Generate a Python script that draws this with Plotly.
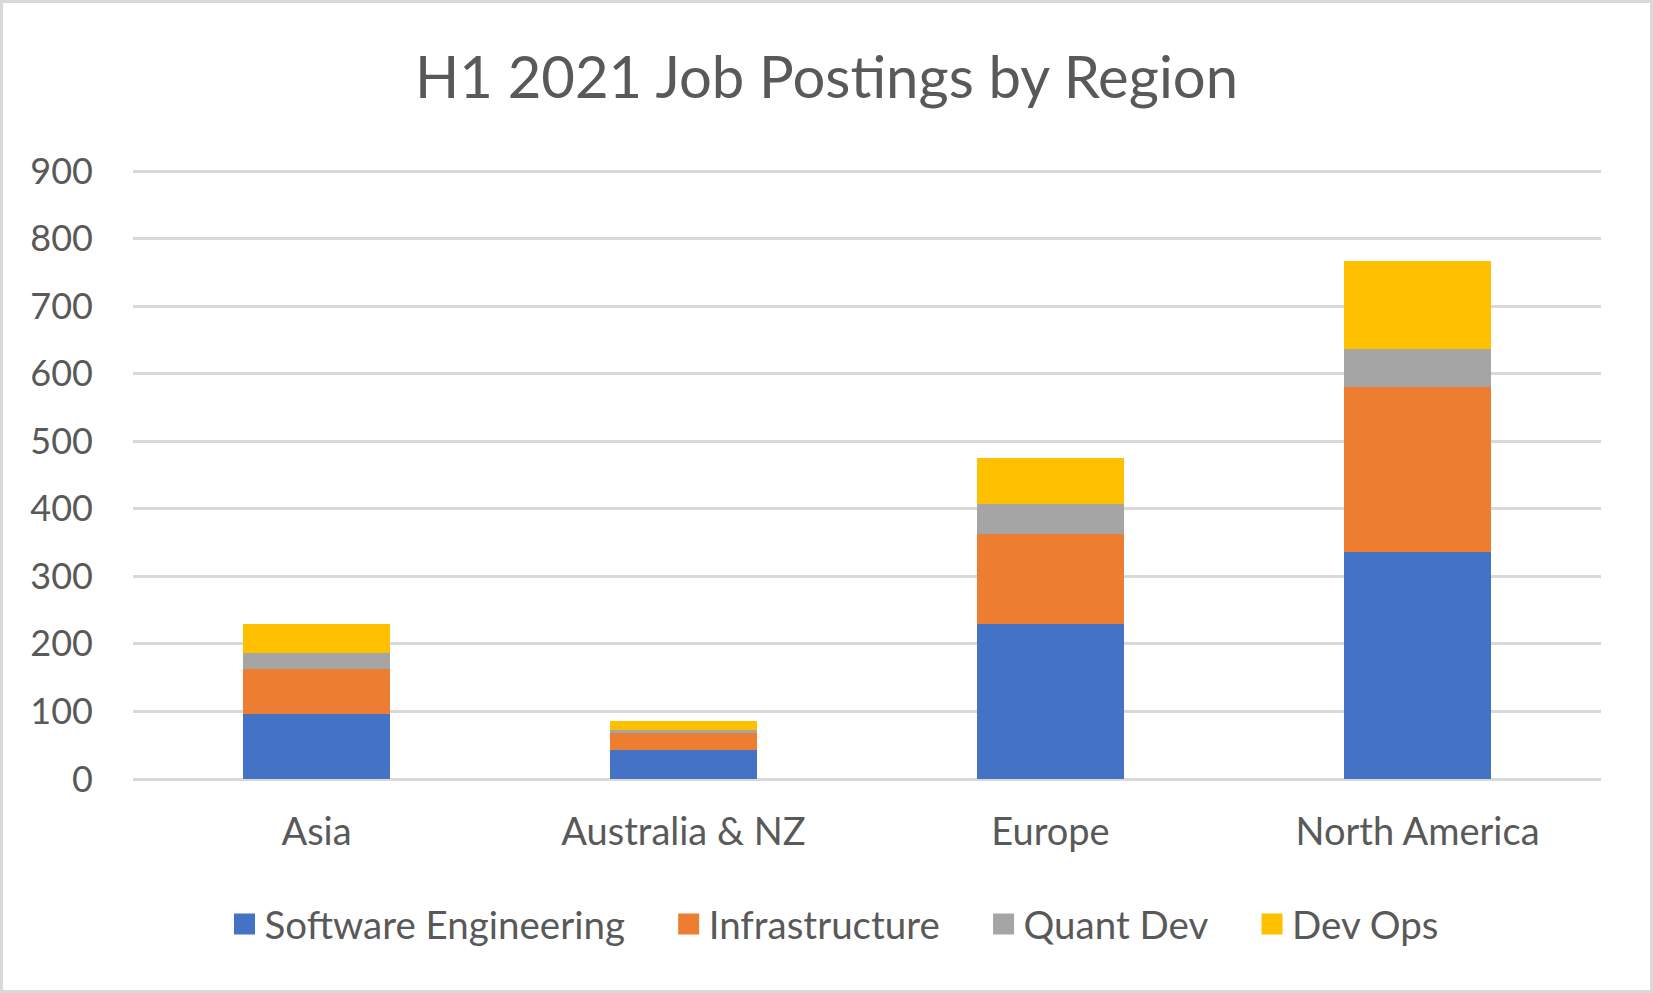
import plotly.graph_objects as go

# data
regions = ['Asia', 'Australia & NZ', 'Europe', 'North America']
software_engineering = [96, 43, 230, 336]
infrastructure = [67, 25, 133, 244]
quant_dev = [23, 5, 44, 56]
dev_ops = [44, 13, 68, 131]

series_names = ['Software Engineering', 'Infrastructure', 'Quant Dev', 'Dev Ops']
series_values = [software_engineering, infrastructure, quant_dev, dev_ops]
colors = ['#4472C4', '#ED7D31', '#A5A5A5', '#FFC000']

W, H = 1653, 993
margin = dict(l=133, r=52, t=169, b=214)
text_color = '#595959'
grid_color = '#D9D9D9'
font_family = 'Lato, Carlito, Calibri, sans-serif'

traces = []
for name, vals, col in zip(series_names, series_values, colors):
    traces.append(go.Bar(x=regions, y=vals, name=name, marker=dict(color=col, line=dict(width=0)),
                         showlegend=False))

# legend entries with bigger square swatches than bar legends give
for i, (name, col) in enumerate(zip(series_names, colors)):
    label = name if i == len(series_names) - 1 else name + '\u2003\u00a0'  # widen gap between entries
    traces.append(go.Scatter(x=[None], y=[None], mode='markers', name=label,
                             marker=dict(symbol='square', size=16, color=col, line=dict(width=5, color=col))))

layout = go.Layout(
    width=W, height=H,
    margin=margin,
    paper_bgcolor='white', plot_bgcolor='white',
    barmode='stack', bargap=0.6,
    font=dict(family=font_family, size=38, color=text_color),
    title=dict(text='H1 2021 Job Postings by Region', x=0.5, xanchor='center',
               y=1 - 78 / H, yanchor='middle', yref='container',
               font=dict(family=font_family, size=58, color=text_color)),
    xaxis=dict(categoryorder='array', categoryarray=regions, showgrid=False, showline=False,
               ticks='', ticklabelstandoff=27, tickfont=dict(size=38)),
    # top of range a bit above 900 so plotly keeps the 900 gridline
    yaxis=dict(range=[0, 903], tickvals=[0, 100, 200, 300, 400, 500, 600, 700, 800, 900],
               showgrid=True, gridcolor=grid_color, gridwidth=2.5,
               zeroline=True, zerolinecolor=grid_color, zerolinewidth=2.5, showline=False,
               ticks='', ticklabelstandoff=39, tickfont=dict(size=36)),
    legend=dict(orientation='h', traceorder='normal', xref='container', yref='container',
                x=834 / W, xanchor='center', y=1 - 924.5 / H, yanchor='middle',
                font=dict(size=38.5, color=text_color), bgcolor='rgba(0,0,0,0)'),
)

fig = go.Figure(data=traces, layout=layout)

# light grey frame round the whole chart
pw = W - margin['l'] - margin['r']
ph = H - margin['t'] - margin['b']
fig.add_shape(type='rect', xref='paper', yref='paper',
              x0=-(margin['l'] - 1.5) / pw, x1=1 + (margin['r'] - 1.5) / pw,
              y0=-(margin['b'] - 1.5) / ph, y1=1 + (margin['t'] - 1.5) / ph,
              line=dict(color=grid_color, width=3), fillcolor='rgba(0,0,0,0)', layer='above')

# drop the browser's default body margin so the figure sits at the page corner
fig.write_html('out.html', config={'displayModeBar': False},
               post_script="document.body.style.margin='0';")
